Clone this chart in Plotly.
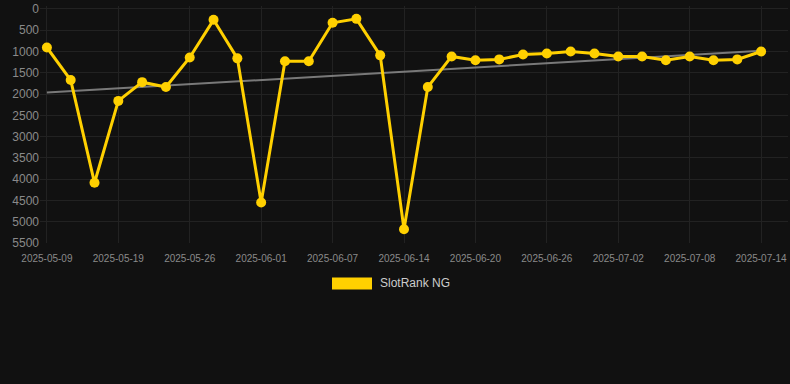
import plotly.graph_objects as go

dates = ["2025-05-09", "2025-05-12", "2025-05-15", "2025-05-19", "2025-05-21", "2025-05-23",
         "2025-05-26", "2025-05-28", "2025-05-30", "2025-06-01", "2025-06-03", "2025-06-05",
         "2025-06-07", "2025-06-09", "2025-06-11", "2025-06-14", "2025-06-16", "2025-06-18",
         "2025-06-20", "2025-06-22", "2025-06-24", "2025-06-26", "2025-06-28", "2025-06-30",
         "2025-07-02", "2025-07-04", "2025-07-06", "2025-07-08", "2025-07-10", "2025-07-12",
         "2025-07-14"]
rank = [905, 1670, 4085, 2160, 1720, 1835, 1140, 255, 1160, 4550, 1230, 1230, 325, 232, 1090,
        5175, 1835, 1115, 1205, 1185, 1070, 1045, 1000, 1045, 1115, 1115, 1205, 1115, 1205,
        1185, 1000]
trend_dates = [dates[0], dates[-1]]
trend_vals = [1965, 980]
tick_dates = dates[::3]
y_ticks = list(range(0, 5501, 500))
series_name = "SlotRank NG"

GOLD = "#FFD000"
BG = "#111111"
GRID = "#222222"
TICK = "#8a8a8a"

TOP = 3
BOTTOM = 243
PH = BOTTOM - TOP

fig = go.Figure()
fig.add_trace(go.Scatter(
    x=trend_dates, y=trend_vals, mode="lines",
    line=dict(color="rgba(140,140,140,0.85)", width=2),
    showlegend=False, hoverinfo="skip"))
fig.add_trace(go.Scatter(
    x=dates, y=rank, mode="lines+markers", name=series_name,
    line=dict(color=GOLD, width=3),
    marker=dict(color=GOLD, size=10),
    showlegend=False))

fig.update_layout(
    width=790, height=384,
    paper_bgcolor=BG, plot_bgcolor=BG,
    margin=dict(l=40, r=2, t=TOP, b=384 - BOTTOM),
    font=dict(family="Liberation Sans, Arial, sans-serif", color=TICK),
    xaxis=dict(type="category", categoryorder="array", categoryarray=dates,
               range=[-0.29, 31.13], tickvals=tick_dates, ticktext=tick_dates,
               showgrid=True, gridcolor=GRID, gridwidth=1, zeroline=False,
               showline=False, tickfont=dict(size=10, color=TICK), ticks="",
               ticklabelstandoff=8, ticklabeloverflow="allow", fixedrange=True),
    yaxis=dict(range=[5500, -70], tickvals=y_ticks,
               showgrid=True, gridcolor=GRID, gridwidth=1, zeroline=False,
               showline=False, tickfont=dict(size=12, color=TICK), ticks="",
               ticklabeloverflow="allow", fixedrange=True),
    showlegend=False,
    shapes=[dict(type="rect", xref="paper", yref="paper",
                 x0=(332 - 40) / 748, x1=(372 - 40) / 748,
                 y0=-(290 - BOTTOM) / PH, y1=-(278 - BOTTOM) / PH,
                 fillcolor=GOLD, line=dict(width=0))],
    annotations=[dict(text=series_name, xref="paper", yref="paper",
                      x=(378 - 40) / 748, y=-(284 - BOTTOM) / PH,
                      xanchor="left", yanchor="middle", showarrow=False,
                      font=dict(size=12, color="#cccccc"))],
)

fig.write_html("out.html")
